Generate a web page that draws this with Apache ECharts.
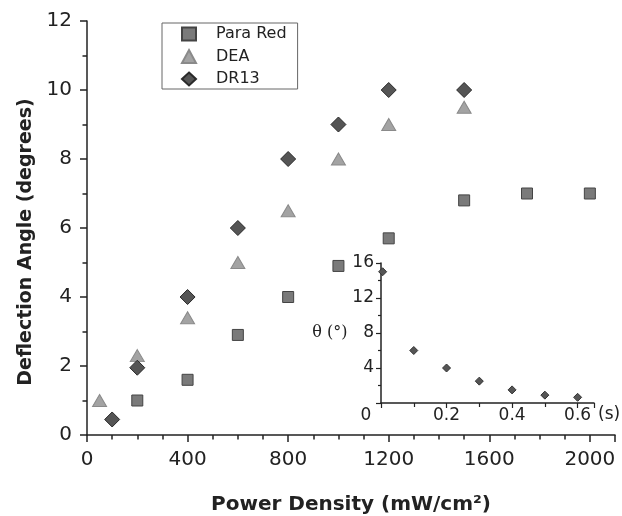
<!DOCTYPE html>
<html><head><meta charset="utf-8">
<script src="https://cdn.jsdelivr.net/npm/echarts@6/dist/echarts.min.js"></script>
<style>html,body{margin:0;padding:0;background:#fff}#c{width:622px;height:516px}</style>
</head><body><div id="c"></div>
<script>
// ---- data ----
const paraRedX = [200, 400, 600, 800, 1000, 1200, 1500, 1750, 2000];
const paraRedY = [1.0, 1.6, 2.9, 4.0, 4.9, 5.7, 6.8, 7.0, 7.0];
const deaX = [50, 200, 400, 600, 800, 1000, 1200, 1500];
const deaY = [1.0, 2.3, 3.4, 5.0, 6.5, 8.0, 9.0, 9.5];
const dr13X = [100, 200, 400, 600, 800, 1000, 1200, 1500];
const dr13Y = [0.45, 1.95, 4.0, 6.0, 8.0, 9.0, 10.0, 10.0];
const insetT = [0.005, 0.1, 0.2, 0.3, 0.4, 0.5, 0.6];
const insetTheta = [15.0, 6.0, 4.0, 2.5, 1.5, 0.9, 0.65];
const seriesNames = ['Para Red', 'DEA', 'DR13'];

const zip = (a, b) => a.map((v, i) => [v, b[i]]);
const ff = 'DejaVu Sans, Liberation Sans, Arial, sans-serif';
const txt = '#222';
const axisLine = {show: true, lineStyle: {color: '#222', width: 1.5}};

const chart = echarts.init(document.getElementById('c'), null, {renderer: 'canvas'});
chart.setOption({
  animation: false,
  backgroundColor: '#fff',
  legend: {
    left: 162, top: 23, orient: 'vertical',
    padding: [3, 11, 2, 19],
    itemWidth: 14, itemHeight: 13, itemGap: 6.5,
    borderColor: '#666', borderWidth: 1,
    formatter: '{t|{name}}',
    textStyle: {fontFamily: ff, fontSize: 16, color: txt,
      rich: {t: {fontFamily: ff, fontSize: 16, color: txt, padding: [0, 0, 0, 15]}}},
    data: seriesNames
  },
  grid: [
    {left: 87, right: 7, top: 21, bottom: 81, containLabel: false, outerBoundsMode: 'none'},
    {left: 381, right: 28, top: 263, bottom: 113, containLabel: false, outerBoundsMode: 'none'}
  ],
  xAxis: [
    {
      type: 'value', gridIndex: 0, min: 0, max: 2100, interval: 400,
      axisLine: axisLine,
      axisTick: {show: true, inside: false, length: 7, lineStyle: {color: '#222', width: 1.5}},
      minorTick: {show: true, splitNumber: 4, length: 4.5, lineStyle: {color: '#222', width: 1.5}},
      splitLine: {show: false},
      axisLabel: {fontFamily: ff, fontSize: 20, color: txt, margin: 15,
        formatter: v => (v % 400 === 0 ? String(v) : '')},
      name: 'Power Density (mW/cm²)', nameLocation: 'middle', nameGap: 60,
      nameTextStyle: {fontFamily: ff, fontSize: 20, fontWeight: 'bold', color: txt}
    },
    {
      type: 'value', gridIndex: 1, min: 0, max: 0.65, interval: 0.2,
      axisLine: axisLine,
      axisTick: {show: true, inside: false, length: 5, lineStyle: {color: '#222', width: 1.2}},
      minorTick: {show: true, splitNumber: 2, length: 4, lineStyle: {color: '#222', width: 1.2}},
      splitLine: {show: false},
      axisLabel: {fontFamily: ff, fontSize: 17, color: txt, margin: 4,
        formatter: v => (v === 0 ? '{z|0}' : v.toFixed(1)),
        rich: {z: {fontFamily: ff, fontSize: 17, color: txt, padding: [0, 30, 0, 0]}}},
      name: '(s)', nameLocation: 'end', nameGap: 4,
      nameTextStyle: {fontFamily: ff, fontSize: 17, color: txt, verticalAlign: 'top', padding: [3, 0, 0, 0]}
    }
  ],
  yAxis: [
    {
      type: 'value', gridIndex: 0, min: 0, max: 12, interval: 2,
      axisLine: axisLine,
      axisTick: {show: true, inside: false, length: 7, lineStyle: {color: '#222', width: 1.5}},
      minorTick: {show: true, splitNumber: 2, length: 4.5, lineStyle: {color: '#222', width: 1.5}},
      splitLine: {show: false},
      axisLabel: {fontFamily: ff, fontSize: 20, color: txt, margin: 15},
      name: 'Deflection Angle (degrees)', nameLocation: 'middle', nameGap: 45,
      nameTextStyle: {fontFamily: ff, fontSize: 19, fontWeight: 'bold', color: txt, padding: [0, 28, 0, 0]}
    },
    {
      type: 'value', gridIndex: 1, min: 0, max: 16, interval: 4,
      axisLine: axisLine,
      axisTick: {show: true, inside: false, length: 5, lineStyle: {color: '#222', width: 1.2}},
      minorTick: {show: true, splitNumber: 2, length: 3, lineStyle: {color: '#222', width: 1.2}},
      splitLine: {show: false},
      axisLabel: {fontFamily: ff, fontSize: 17, color: txt, margin: 7,
        formatter: v => (v === 0 ? '' : String(v))},
      name: 'θ (°)', nameLocation: 'middle', nameRotate: 0, nameGap: 29,
      nameTextStyle: {fontFamily: 'DejaVu Serif, Liberation Serif, serif', fontSize: 16, color: txt, padding: [0, 0, 22, 0]}
    }
  ],
  series: [
    {
      name: seriesNames[0], type: 'scatter', xAxisIndex: 0, yAxisIndex: 0,
      symbol: 'rect', symbolSize: 11,
      itemStyle: {color: '#7a7a7a', borderColor: '#444', borderWidth: 1, opacity: 1},
      data: zip(paraRedX, paraRedY)
    },
    {
      name: seriesNames[1], type: 'scatter', xAxisIndex: 0, yAxisIndex: 0,
      symbol: 'triangle', symbolSize: [14, 12],
      itemStyle: {color: '#a3a3a3', borderColor: '#8a8a8a', borderWidth: 1, opacity: 1},
      data: zip(deaX, deaY)
    },
    {
      name: seriesNames[2], type: 'scatter', xAxisIndex: 0, yAxisIndex: 0,
      symbol: 'diamond', symbolSize: 15,
      itemStyle: {color: '#555', borderColor: '#2a2a2a', borderWidth: 1, opacity: 1},
      data: zip(dr13X, dr13Y)
    },
    {
      name: 'inset', type: 'scatter', xAxisIndex: 1, yAxisIndex: 1,
      symbol: 'diamond', symbolSize: 8,
      itemStyle: {color: '#555', borderColor: '#333', borderWidth: 1, opacity: 1},
      data: zip(insetT, insetTheta)
    }
  ]
});
</script></body></html>
